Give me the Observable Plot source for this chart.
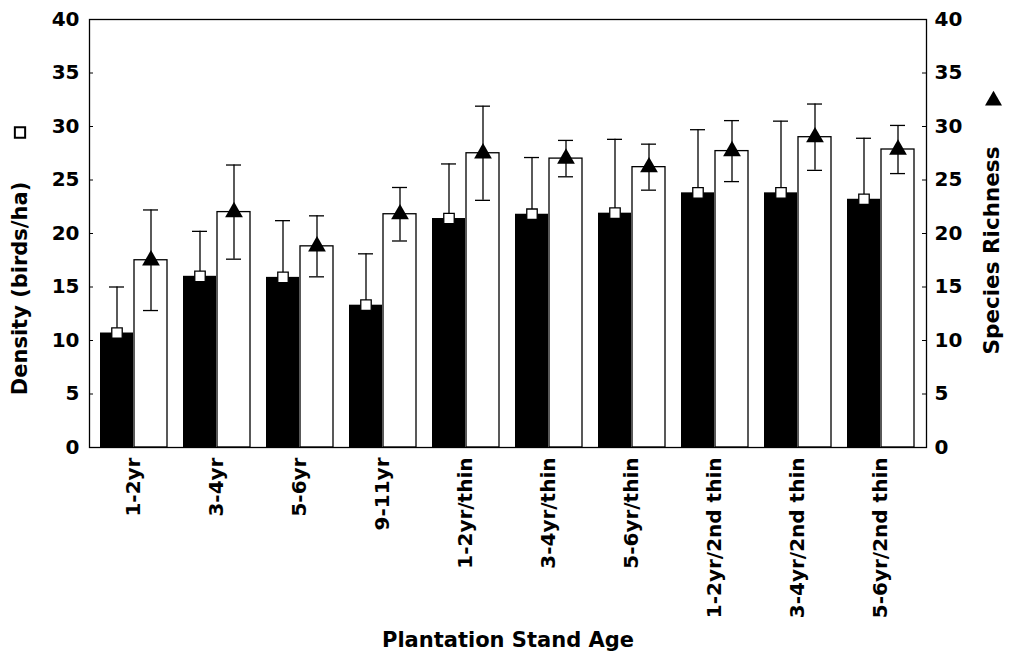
<!DOCTYPE html>
<html>
<head>
<meta charset="utf-8">
<script src="https://cdn.jsdelivr.net/npm/d3@7"></script>
<script src="https://cdn.jsdelivr.net/npm/@observablehq/plot@0.6"></script>
<style>
  html, body { margin: 0; padding: 0; background: #fff; }
  #chart { width: 1015px; height: 663px; }
</style>
</head>
<body>
<div id="chart"></div>
<script>
const categories = ["1-2yr", "3-4yr", "5-6yr", "9-11yr", "1-2yr/thin", "3-4yr/thin", "5-6yr/thin", "1-2yr/2nd thin", "3-4yr/2nd thin", "5-6yr/2nd thin"];
const density = [10.7, 16.0, 15.9, 13.3, 21.4, 21.8, 21.9, 23.8, 23.8, 23.2];
const densityErr = [4.3, 4.2, 5.3, 4.8, 5.1, 5.3, 6.9, 5.9, 6.7, 5.7];
const richness = [17.5, 22.0, 18.8, 21.8, 27.5, 27.0, 26.2, 27.7, 29.0, 27.85];
const richnessErr = [4.7, 4.4, 2.85, 2.5, 4.4, 1.7, 2.15, 2.85, 3.1, 2.25];
const yTicks = [0, 5, 10, 15, 20, 25, 30, 35, 40];
const leftTitle = "Density (birds/ha)";
const rightTitle = "Species Richness";
const xTitle = "Plantation Stand Age";

const rows = categories.map((c, i) => ({
  cat: c,
  density: density[i],
  densityErr: densityErr[i],
  richness: richness[i],
  richnessErr: richnessErr[i]
}));

const font = "DejaVu Sans";

const chart = Plot.plot({
  width: 1015,
  height: 663,
  marginLeft: 89,
  marginRight: 89,
  marginTop: 19,
  marginBottom: 216,
  style: { fontFamily: font, fontWeight: "bold", background: "#fff", color: "#000" },
  x: { type: "band", domain: categories, paddingInner: 0.188, paddingOuter: 0.092 },
  y: { domain: [0, 40] },
  marks: [
    Plot.barY(rows, { x: "cat", y: "density", fill: "#000", insetRight: 34 }),
    Plot.barY(rows, { x: "cat", y: "richness", fill: "#fff", stroke: "#000", strokeWidth: 1.3, insetLeft: 34 }),
    Plot.ruleX(rows, { x: "cat", y1: d => d.density - d.densityErr, y2: d => d.density + d.densityErr, dx: -17, stroke: "#000", strokeWidth: 1.3 }),
    Plot.tickY(rows, { x: "cat", y: d => d.density + d.densityErr, insetLeft: 9, insetRight: 43, stroke: "#000", strokeWidth: 1.3 }),
    Plot.ruleX(rows, { x: "cat", y1: d => d.richness - d.richnessErr, y2: d => d.richness + d.richnessErr, dx: 17, stroke: "#000", strokeWidth: 1.3 }),
    Plot.tickY(rows, { x: "cat", y: d => d.richness + d.richnessErr, insetLeft: 43, insetRight: 9, stroke: "#000", strokeWidth: 1.3 }),
    Plot.tickY(rows, { x: "cat", y: d => d.richness - d.richnessErr, insetLeft: 43, insetRight: 9, stroke: "#000", strokeWidth: 1.3 }),
    Plot.dot(rows, { x: "cat", y: "density", dx: -17, symbol: "square", r: 5.9, fill: "#fff", stroke: "#000", strokeWidth: 1.3 }),
    Plot.dot(rows, { x: "cat", y: "richness", dx: 17, symbol: "triangle", r: 6.6, fill: "#000" }),
    Plot.frame({ stroke: "#000", strokeWidth: 1.3 }),
    Plot.ruleY(yTicks, { insetRight: 833, stroke: "#000" }),
    Plot.ruleY(yTicks, { insetLeft: 833, stroke: "#000" }),
    Plot.axisY({ anchor: "left", ticks: yTicks, tickSize: 0, tickPadding: 10, fontSize: 20, fontWeight: "bold", label: null }),
    Plot.axisY({ anchor: "right", ticks: yTicks, tickSize: 0, tickPadding: 8, fontSize: 20, fontWeight: "bold", label: null }),
    Plot.axisX({ anchor: "bottom", tickSize: 0, tickRotate: -90, tickPadding: 10, fontSize: 20, fontWeight: "bold", label: null }),
    Plot.text([leftTitle], { text: d => d, frameAnchor: "left", textAnchor: "middle", dx: -69, dy: 55, rotate: -90, fontSize: 21, fontWeight: "bold" }),
    Plot.dot([leftTitle], { frameAnchor: "left", dx: -69.5, dy: -101, symbol: "square", r: 5.8, fill: "#fff", stroke: "#000", strokeWidth: 2 }),
    Plot.text([rightTitle], { text: d => d, frameAnchor: "right", textAnchor: "middle", dx: 66, dy: 17, rotate: -90, fontSize: 21.5, fontWeight: "bold" }),
    Plot.dot([rightTitle], { frameAnchor: "right", dx: 67, dy: -133, symbol: "triangle", r: 6.3, fill: "#000" }),
    Plot.text([xTitle], { text: d => d, frameAnchor: "bottom", textAnchor: "middle", dy: 199, fontSize: 21, fontWeight: "bold" })
  ]
});

document.getElementById("chart").appendChild(chart);
</script>
</body>
</html>
